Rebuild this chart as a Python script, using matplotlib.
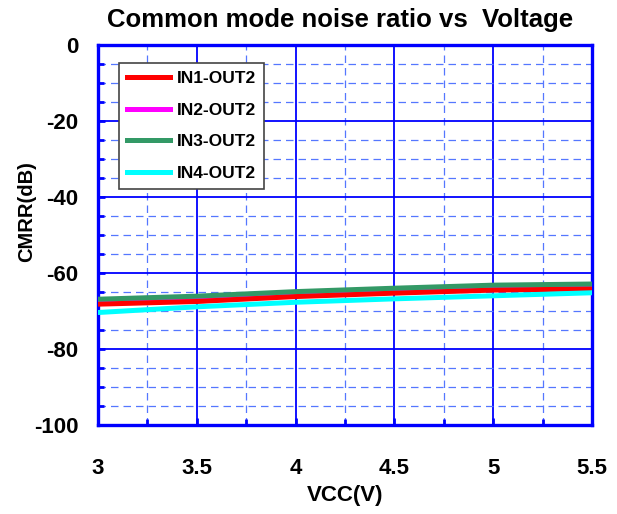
import matplotlib.pyplot as plt
from matplotlib.ticker import MultipleLocator

# CMRR vs supply voltage, four input channels into OUT2
vcc = [3.0, 3.5, 4.0, 4.5, 5.0, 5.5]
in1_out2 = [-68.2, -67.5, -66.2, -65.3, -64.5, -64.2]
in2_out2 = [-67.6, -66.9, -65.8, -64.8, -63.8, -63.6]
in3_out2 = [-66.9, -66.1, -64.9, -64.0, -63.2, -62.9]
in4_out2 = [-70.4, -68.9, -67.7, -66.8, -66.0, -65.2]

x_ticks = [3, 3.5, 4, 4.5, 5, 5.5]
x_tick_labels = ['3', '3.5', '4', '4.5', '5', '5.5']
y_ticks = [0, -20, -40, -60, -80, -100]

plt.rcParams['font.family'] = ['Liberation Sans', 'DejaVu Sans']
plt.rcParams['font.weight'] = 'bold'
plt.rcParams['axes.unicode_minus'] = False

BLUE = '#0000ff'
MINOR_BLUE = '#5577ff'

fig = plt.figure(figsize=(6.17, 5.14), dpi=100)
ax = fig.add_axes([98 / 617, 1 - 425 / 514, 494 / 617, 380 / 514])

# draw order: magenta under red, green and cyan on top
ax.plot(vcc, in2_out2, color='#ff00ff', lw=3.6, label='IN2-OUT2', zorder=3)
ax.plot(vcc, in1_out2, color='#ff0000', lw=3.6, label='IN1-OUT2', zorder=4)
ax.plot(vcc, in3_out2, color='#339966', lw=3.6, label='IN3-OUT2', zorder=5)
ax.plot(vcc, in4_out2, color='#00ffff', lw=3.6, label='IN4-OUT2', zorder=6)

ax.set_xlim(3, 5.5)
ax.set_ylim(-100, 0)
ax.set_xticks(x_ticks)
ax.set_xticklabels(x_tick_labels)
ax.set_yticks(y_ticks)
ax.xaxis.set_minor_locator(MultipleLocator(0.25))
ax.yaxis.set_minor_locator(MultipleLocator(5))

ax.grid(which='major', color=BLUE, lw=1.3, ls='-', zorder=1)
ax.grid(which='minor', color=MINOR_BLUE, lw=0.9, ls=(0, (6, 4)), zorder=1)

ax.tick_params(which='both', direction='in', color=BLUE, width=2,
               top=False, right=False)
ax.tick_params(which='major', length=5)
ax.tick_params(which='minor', length=4)
ax.tick_params(axis='x', which='major', pad=24, labelsize=16)
ax.tick_params(axis='y', which='major', pad=14, labelsize=16)
for lbl in ax.get_xticklabels() + ax.get_yticklabels():
    lbl.set_fontweight('bold')

for sp in ax.spines.values():
    sp.set_color(BLUE)
    sp.set_linewidth(2.4)

fig.text(340 / 617, 1 - 20 / 514, 'Common mode noise ratio vs  Voltage',
         ha='center', va='center', fontsize=18.5, fontweight='bold')
fig.text(345 / 617, 1 - 496 / 514, 'VCC(V)', ha='center', va='center',
         fontsize=16, fontweight='bold')
fig.text(27 / 617, 1 - 212 / 514, 'CMRR(dB)', ha='center', va='center',
         rotation=90, fontsize=14.5, fontweight='bold')

handles, labels = ax.get_legend_handles_labels()
order = [1, 0, 2, 3]
leg = ax.legend([handles[i] for i in order], [labels[i] for i in order],
                loc='upper left', bbox_to_anchor=(21 / 494, 362 / 380),
                fancybox=False, framealpha=1, edgecolor='#444444',
                prop={'weight': 'bold', 'size': 12.5},
                handlelength=2.5, handletextpad=0.4, labelspacing=0.95,
                borderpad=0.45, borderaxespad=0, handleheight=0.7)
leg.get_frame().set_linewidth(1.2)
leg.set_zorder(10)

fig.savefig('out.png', dpi=100)
